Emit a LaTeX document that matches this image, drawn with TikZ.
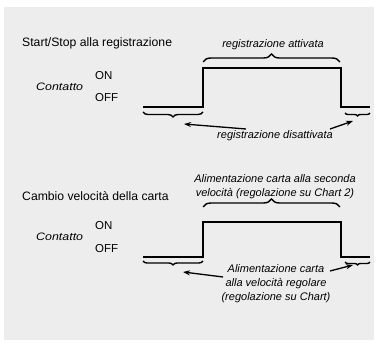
\documentclass[tikz,border=0pt]{standalone}
\usepackage{fontspec}
\setmainfont{Liberation Sans}
\usetikzlibrary{decorations.pathreplacing,arrows.meta}
\begin{document}
\begin{tikzpicture}[x=1pt,y=-1pt,
  title/.style={font=\fontsize{12.2}{14}\selectfont, anchor=west, inner sep=0pt},
  lvl/.style={font=\fontsize{11.5}{13}\selectfont, anchor=west, inner sep=0pt},
  lab/.style={font=\fontsize{11}{14}\selectfont\itshape, inner sep=0pt, align=center},
  cont/.style={font=\fontsize{10.8}{12}\selectfont\itshape, anchor=west, inner sep=0pt},
  sig/.style={line width=1.8pt, line join=miter},
  brc/.style={line width=1.4pt, decorate},
  arr/.style={line width=1.3pt, -{Stealth[length=7pt,width=5pt]}}]
\useasboundingbox (0,0) rectangle (378,344);
\fill[white] (0,0) rectangle (378,344);
\fill[black!7] (4,7) rectangle (374,340);
% ---------- upper diagram
\node[title] (t1) at (22,43) {Start/Stop alla registrazione};
\node[lvl] (on1) at (95,76) {ON};
\node[lvl] (off1) at (95,98) {OFF};
\node[cont] (c1) at (36,87) {\scalebox{1.15}[1]{Contatto}};
\draw[sig] (143,107) -- (203,107) -- (203,68) -- (341,68) -- (341,107) -- (370,107);
\draw[brc, decoration={brace, amplitude=8pt}] (203,62) -- (340,62);
\node[lab] (a1) at (273,45) {registrazione attivata};
\draw[brc, decoration={brace, mirror, amplitude=5pt}] (143,112) -- (203,112);
\draw[brc, decoration={brace, mirror, amplitude=3pt}] (345,113) -- (370,113);
\node[lab] (d1) at (275,136) {registrazione disattivata};
\coordinate (s1) at (246,129);
\coordinate (r1) at (330,129);
\coordinate (p1) at (184,124);
\coordinate (q1) at (353,121);
\draw[arr] (s1) -- (p1);
\draw[arr] (r1) -- (q1);
% ---------- lower diagram
\node[title] (t2) at (22,196) {Cambio velocità della carta};
\node[lvl] (on2) at (95,226) {ON};
\node[lvl] (off2) at (95,249) {OFF};
\node[cont] (c2) at (36,237) {\scalebox{1.15}[1]{Contatto}};
\draw[sig] (143,257) -- (203,257) -- (203,222) -- (341,222) -- (341,257) -- (370,257);
\draw[brc, decoration={brace, amplitude=8pt}] (203,207) -- (340,207);
\node[lab] (a2) at (275,187) {Alimentazione carta alla seconda\\velocità (regolazione su Chart 2)};
\draw[brc, decoration={brace, mirror, amplitude=4pt}] (143,261) -- (203,261);
\draw[brc, decoration={brace, mirror, amplitude=3pt}] (345,262) -- (370,262);
\node[lab] (d2) at (276,284) {Alimentazione carta\\alla velocità regolare\\(regolazione su Chart)};
\coordinate (s2) at (223,277);
\coordinate (r2) at (330,271);
\coordinate (p2) at (183,272);
\coordinate (q2) at (353,265);
\draw[arr] (s2) -- (p2);
\draw[arr] (r2) -- (q2);
\end{tikzpicture}
\end{document}
